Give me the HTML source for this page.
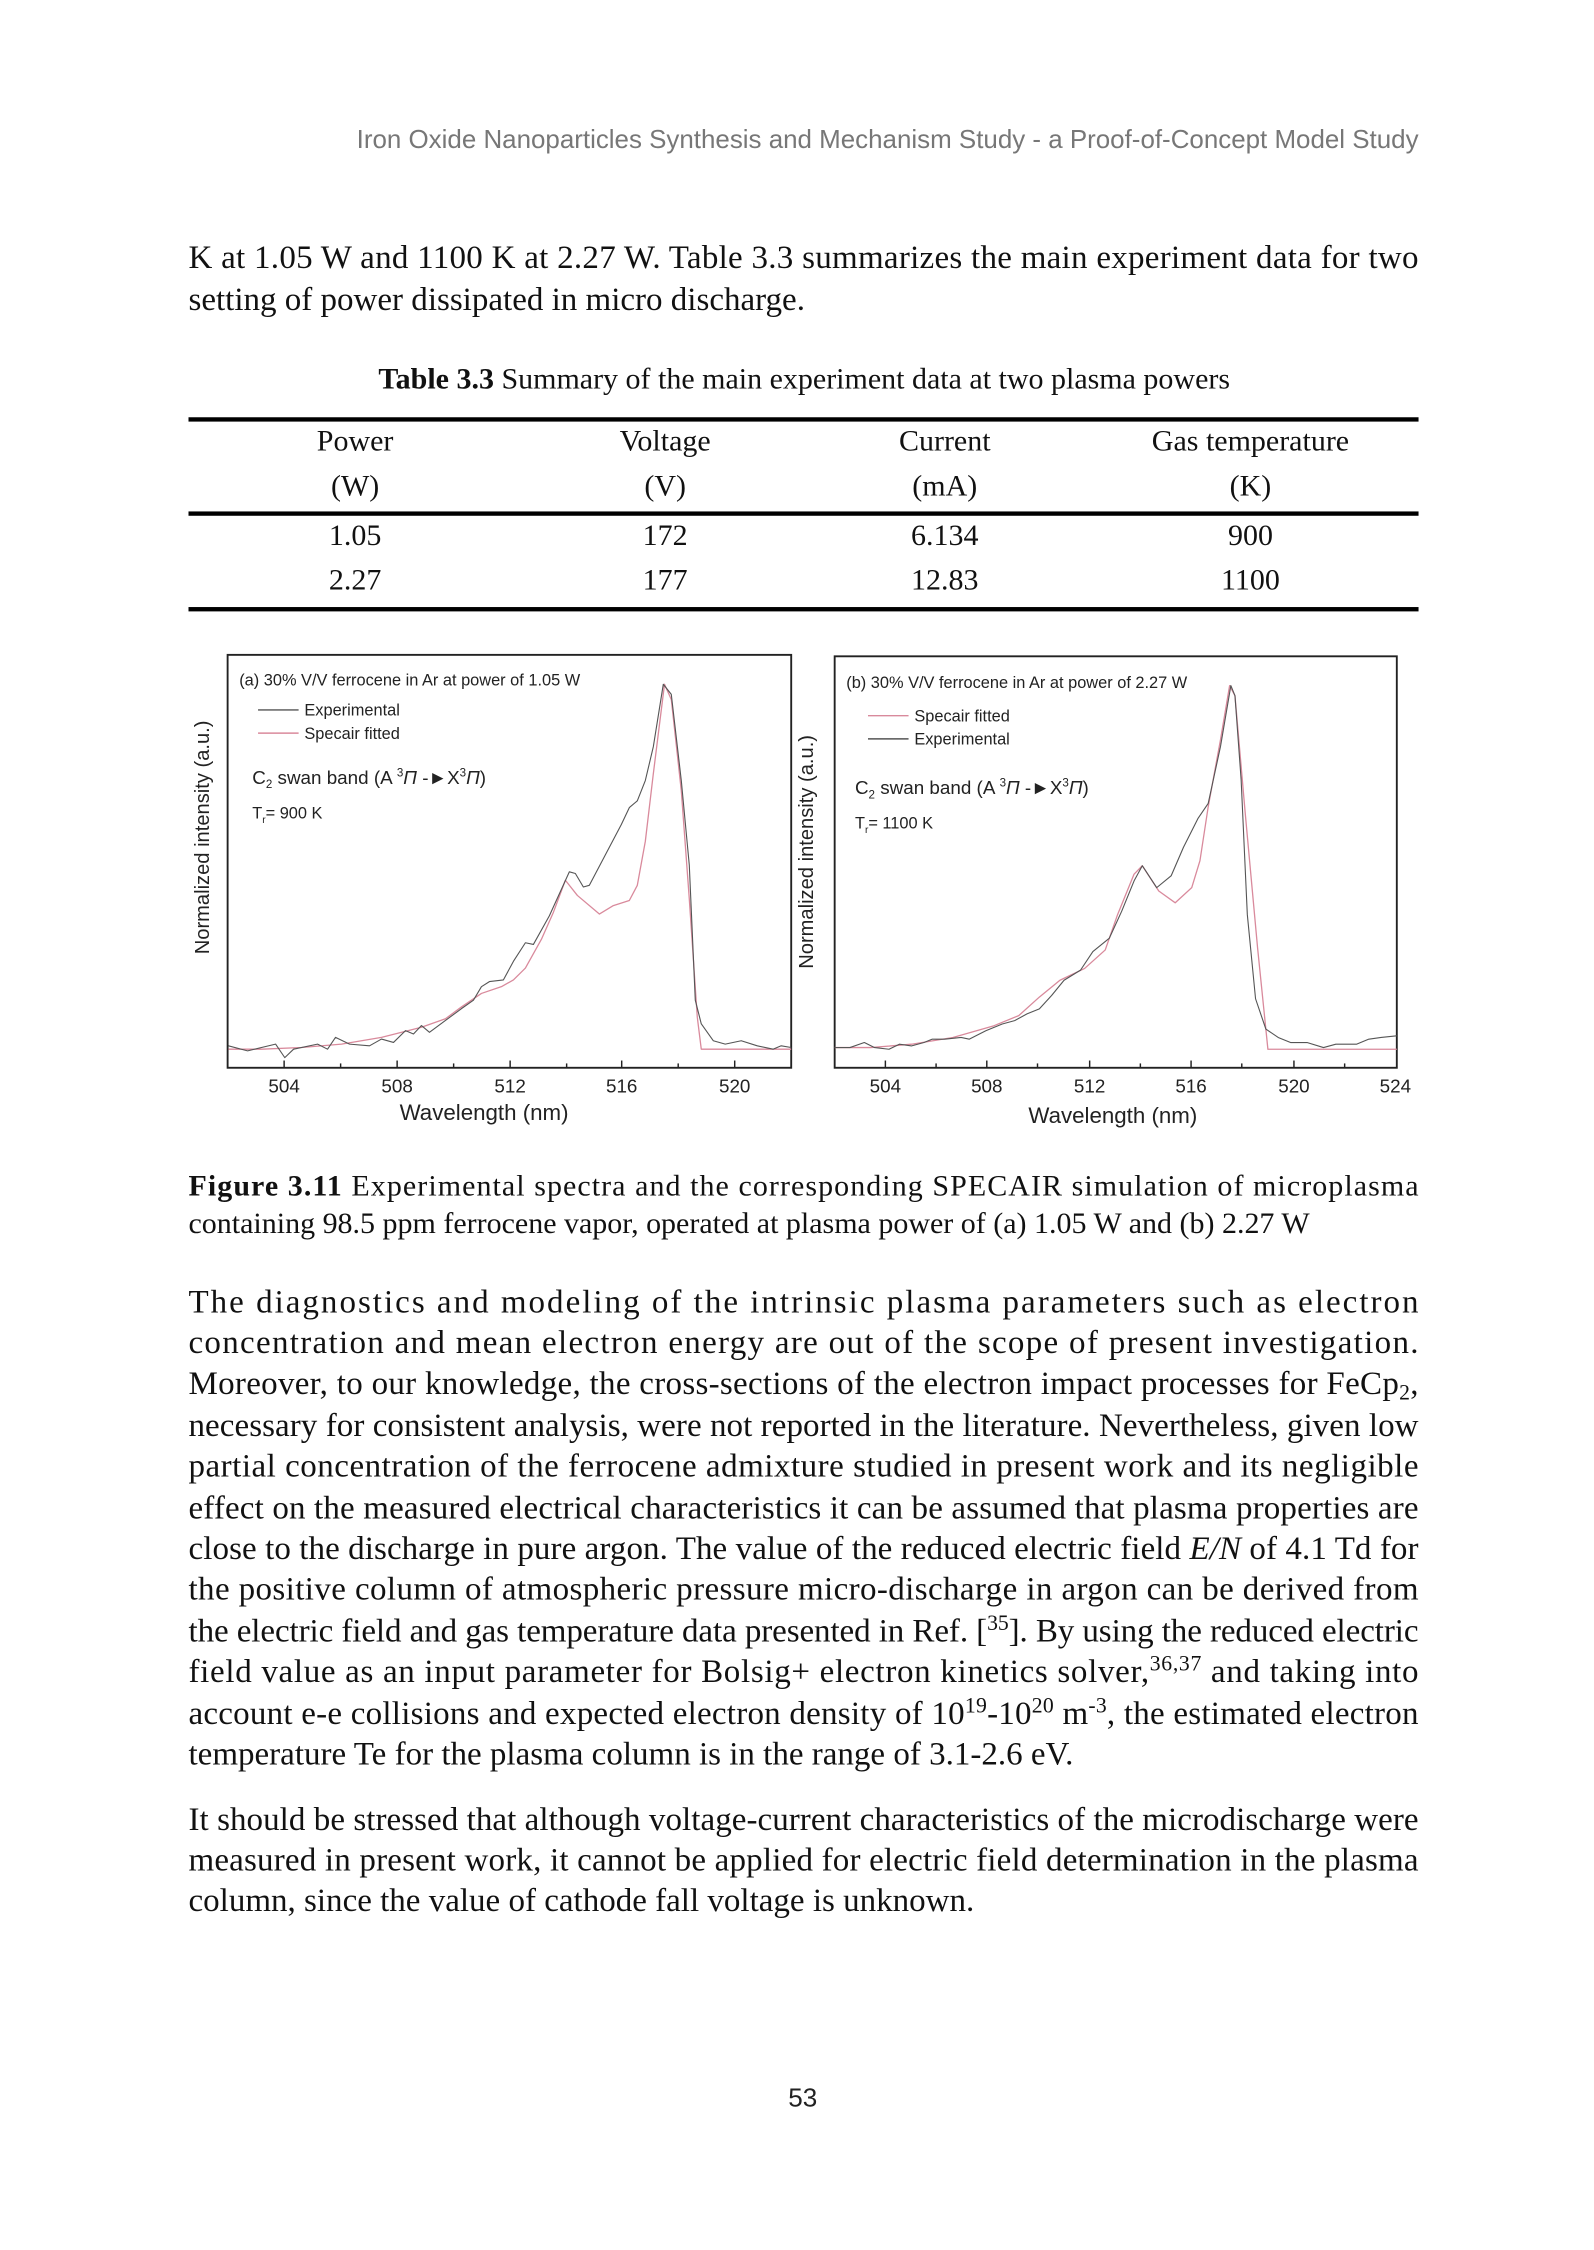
<!DOCTYPE html>
<html><head><meta charset="utf-8"><style>
html,body{margin:0;padding:0;background:#fff;}
svg{display:block;}
.b{font-family:"Liberation Serif",serif;font-size:22.8px;fill:#111;}
.c{font-family:"Liberation Serif",serif;font-size:20.7px;fill:#111;}
.s{font-family:"Liberation Sans",sans-serif;fill:#222;}
</style></head><body>
<svg width="1594" height="2250" viewBox="0 0 1100 1553" xmlns="http://www.w3.org/2000/svg">
<rect width="1100" height="1553" fill="#fff"/>
<text x="979" y="102" text-anchor="end" font-family="Liberation Sans,sans-serif" font-size="17.9" fill="#777">Iron Oxide Nanoparticles Synthesis and Mechanism Study - a Proof-of-Concept Model Study</text>

<text class="b" x="130" y="185" textLength="849" lengthAdjust="spacing">K at 1.05 W and 1100 K at 2.27 W. Table 3.3 summarizes the main experiment data for two</text>
<text class="b" x="130" y="214">setting of power dissipated in micro discharge.</text>

<text class="c" x="555" y="268" text-anchor="middle"><tspan font-weight="bold">Table 3.3</tspan> Summary of the main experiment data at two plasma powers</text>
<rect x="130" y="288" width="849" height="3" fill="#000"/>
<rect x="130" y="353" width="849" height="3" fill="#000"/>
<rect x="130" y="419" width="849" height="3" fill="#000"/>
<g class="c" text-anchor="middle">
<text x="245" y="311">Power</text><text x="459" y="311">Voltage</text><text x="652" y="311">Current</text><text x="863" y="311">Gas temperature</text>
<text x="245" y="342">(W)</text><text x="459" y="342">(V)</text><text x="652" y="342">(mA)</text><text x="863" y="342">(K)</text>
<text x="245" y="376">1.05</text><text x="459" y="376">172</text><text x="652" y="376">6.134</text><text x="863" y="376">900</text>
<text x="245" y="407">2.27</text><text x="459" y="407">177</text><text x="652" y="407">12.83</text><text x="863" y="407">1100</text>
</g>

<!-- Panel a -->
<rect x="157" y="452" width="389" height="285" fill="none" stroke="#222" stroke-width="1.3"/>
<g stroke="#222" stroke-width="1">
<line x1="196" y1="737" x2="196" y2="732"/><line x1="235" y1="737" x2="235" y2="734"/><line x1="274" y1="737" x2="274" y2="732"/><line x1="313" y1="737" x2="313" y2="734"/><line x1="352" y1="737" x2="352" y2="732"/><line x1="391" y1="737" x2="391" y2="734"/><line x1="429" y1="737" x2="429" y2="732"/><line x1="468" y1="737" x2="468" y2="734"/><line x1="507" y1="737" x2="507" y2="732"/>
</g>
<g class="s" font-size="13" text-anchor="middle">
<text x="196" y="754">504</text><text x="274" y="754">508</text><text x="352" y="754">512</text><text x="429" y="754">516</text><text x="507" y="754">520</text>
</g>
<text class="s" x="334" y="773" font-size="15.4" text-anchor="middle">Wavelength (nm)</text>
<text class="s" font-size="13.9" text-anchor="middle" transform="translate(144,578) rotate(-90)">Normalized intensity (a.u.)</text>
<g transform="translate(157,452) scale(0.27589,0.23322) translate(-115,-28)" fill="none" stroke-linejoin="round">
<polyline vector-effect="non-scaling-stroke" stroke="#d98a9c" stroke-width="1.3" points="117,1195 200,1195 300,1190 400,1180 500,1160 600,1130 660,1105 700,1070 750,1030 800,1010 830,990 860,955 900,870 930,790 960,695 990,740 1045,795 1080,770 1120,755 1140,710 1160,580 1180,380 1208,115 1225,160 1250,430 1270,750 1290,1100 1300,1195 1525,1195"/>
<polyline vector-effect="non-scaling-stroke" stroke="#555" stroke-width="1.1" points="117,1185 165,1200 235,1180 258,1220 280,1195 340,1180 365,1195 385,1160 420,1180 470,1185 500,1165 530,1175 560,1140 580,1150 600,1125 620,1145 660,1110 700,1075 730,1050 750,1010 770,995 805,990 830,935 860,880 880,885 920,800 970,670 985,675 1005,715 1020,710 1060,620 1100,530 1120,480 1140,460 1160,400 1180,300 1205,115 1225,145 1250,400 1270,650 1285,1050 1300,1120 1330,1170 1360,1180 1400,1170 1440,1185 1480,1195 1500,1185 1525,1190"/>
</g>
<g class="s" font-size="11.3">
<text x="165" y="473">(a) 30% V/V ferrocene in Ar at power of 1.05 W</text>
<line x1="178" y1="490" x2="206" y2="490" stroke="#555"/><text x="210" y="494">Experimental</text>
<line x1="178" y1="506" x2="206" y2="506" stroke="#d98a9c"/><text x="210" y="510">Specair fitted</text>
<text x="174" y="541" font-size="13">C<tspan dy="3" font-size="8">2</tspan><tspan dy="-3"> swan band (A </tspan><tspan dy="-5" font-size="8">3</tspan><tspan dy="5" font-style="italic">Π</tspan> -►X<tspan dy="-5" font-size="8">3</tspan><tspan dy="5" font-style="italic">Π</tspan>)</text>
<text x="174" y="565">T<tspan dy="3" font-size="7">r</tspan><tspan dy="-3">= 900 K</tspan></text>
</g>

<!-- Panel b -->
<rect x="576" y="453" width="388" height="284" fill="none" stroke="#222" stroke-width="1.3"/>
<g stroke="#222" stroke-width="1">
<line x1="611" y1="737" x2="611" y2="732"/><line x1="646" y1="737" x2="646" y2="734"/><line x1="681" y1="737" x2="681" y2="732"/><line x1="716" y1="737" x2="716" y2="734"/><line x1="752" y1="737" x2="752" y2="732"/><line x1="787" y1="737" x2="787" y2="734"/><line x1="822" y1="737" x2="822" y2="732"/><line x1="857" y1="737" x2="857" y2="734"/><line x1="893" y1="737" x2="893" y2="732"/><line x1="928" y1="737" x2="928" y2="734"/>
</g>
<g class="s" font-size="13" text-anchor="middle">
<text x="611" y="754">504</text><text x="681" y="754">508</text><text x="752" y="754">512</text><text x="822" y="754">516</text><text x="893" y="754">520</text><text x="963" y="754">524</text>
</g>
<text class="s" x="768" y="775" font-size="15.4" text-anchor="middle">Wavelength (nm)</text>
<text class="s" font-size="13.9" text-anchor="middle" transform="translate(561,588) rotate(-90)">Normalized intensity (a.u.)</text>
<g transform="translate(576,453) scale(0.28425,0.23241) translate(-113,-33)" fill="none" stroke-linejoin="round">
<polyline vector-effect="non-scaling-stroke" stroke="#d98a9c" stroke-width="1.3" points="113,1195 200,1195 300,1185 400,1165 500,1130 560,1100 610,1045 660,995 720,960 770,905 800,800 840,680 860,655 900,730 940,765 980,720 1000,640 1020,480 1050,280 1072,120 1085,150 1110,500 1140,900 1165,1200 1478,1200"/>
<polyline vector-effect="non-scaling-stroke" stroke="#555" stroke-width="1.1" points="113,1195 150,1195 185,1180 210,1195 245,1200 270,1185 300,1190 330,1180 350,1170 380,1170 420,1165 440,1170 480,1145 520,1125 550,1115 580,1095 610,1080 640,1040 670,995 710,965 740,910 780,870 810,790 840,700 860,655 895,720 930,685 960,600 995,515 1020,470 1050,300 1075,120 1085,150 1100,400 1115,800 1135,1050 1160,1140 1190,1165 1220,1180 1260,1180 1300,1195 1330,1185 1380,1185 1410,1170 1440,1165 1478,1160"/>
</g>
<g class="s" font-size="11.3">
<text x="584" y="475">(b) 30% V/V ferrocene in Ar at power of 2.27 W</text>
<line x1="599" y1="494" x2="627" y2="494" stroke="#d98a9c"/><text x="631" y="498">Specair fitted</text>
<line x1="599" y1="510" x2="627" y2="510" stroke="#555"/><text x="631" y="514">Experimental</text>
<text x="590" y="548" font-size="13">C<tspan dy="3" font-size="8">2</tspan><tspan dy="-3"> swan band (A </tspan><tspan dy="-5" font-size="8">3</tspan><tspan dy="5" font-style="italic">Π</tspan> -►X<tspan dy="-5" font-size="8">3</tspan><tspan dy="5" font-style="italic">Π</tspan>)</text>
<text x="590" y="572">T<tspan dy="3" font-size="7">r</tspan><tspan dy="-3">= 1100 K</tspan></text>
</g>

<text class="c" x="130" y="825" textLength="849" lengthAdjust="spacing"><tspan font-weight="bold">Figure 3.11</tspan> Experimental spectra and the corresponding SPECAIR simulation of microplasma</text>
<text class="c" x="130" y="851">containing 98.5 ppm ferrocene vapor, operated at plasma power of (a) 1.05 W and (b) 2.27 W</text>

<g class="b">
<text x="130" y="906" textLength="849" lengthAdjust="spacing">The diagnostics and modeling of the intrinsic plasma parameters such as electron</text>
<text x="130" y="934" textLength="849" lengthAdjust="spacing">concentration and mean electron energy are out of the scope of present investigation.</text>
<text x="130" y="962" textLength="849" lengthAdjust="spacing">Moreover, to our knowledge, the cross-sections of the electron impact processes for FeCp<tspan dy="4" font-size="15">2</tspan><tspan dy="-4">,</tspan></text>
<text x="130" y="991" textLength="849" lengthAdjust="spacing">necessary for consistent analysis, were not reported in the literature. Nevertheless, given low</text>
<text x="130" y="1019" textLength="849" lengthAdjust="spacing">partial concentration of the ferrocene admixture studied in present work and its negligible</text>
<text x="130" y="1048" textLength="849" lengthAdjust="spacing">effect on the measured electrical characteristics it can be assumed that plasma properties are</text>
<text x="130" y="1076" textLength="849" lengthAdjust="spacing">close to the discharge in pure argon. The value of the reduced electric field <tspan font-style="italic">E/N</tspan> of 4.1 Td for</text>
<text x="130" y="1104" textLength="849" lengthAdjust="spacing">the positive column of atmospheric pressure micro-discharge in argon can be derived from</text>
<text x="130" y="1133" textLength="849" lengthAdjust="spacing">the electric field and gas temperature data presented in Ref. [<tspan dy="-8" font-size="15">35</tspan><tspan dy="8">]. By using the reduced electric</tspan></text>
<text x="130" y="1161" textLength="849" lengthAdjust="spacing">field value as an input parameter for Bolsig+ electron kinetics solver,<tspan dy="-8" font-size="15">36,37</tspan><tspan dy="8"> and taking into</tspan></text>
<text x="130" y="1190" textLength="849" lengthAdjust="spacing">account e-e collisions and expected electron density of 10<tspan dy="-8" font-size="15">19</tspan><tspan dy="8">-10</tspan><tspan dy="-8" font-size="15">20</tspan><tspan dy="8"> m</tspan><tspan dy="-8" font-size="15">-3</tspan><tspan dy="8">, the estimated electron</tspan></text>
<text x="130" y="1218">temperature Te for the plasma column is in the range of 3.1-2.6 eV.</text>
<text x="130" y="1263" textLength="849" lengthAdjust="spacing">It should be stressed that although voltage-current characteristics of the microdischarge were</text>
<text x="130" y="1291" textLength="849" lengthAdjust="spacing">measured in present work, it cannot be applied for electric field determination in the plasma</text>
<text x="130" y="1319">column, since the value of cathode fall voltage is unknown.</text>
</g>
<text x="554" y="1454" text-anchor="middle" font-family="Liberation Sans,sans-serif" font-size="18" fill="#222">53</text>
</svg>
</body></html>
